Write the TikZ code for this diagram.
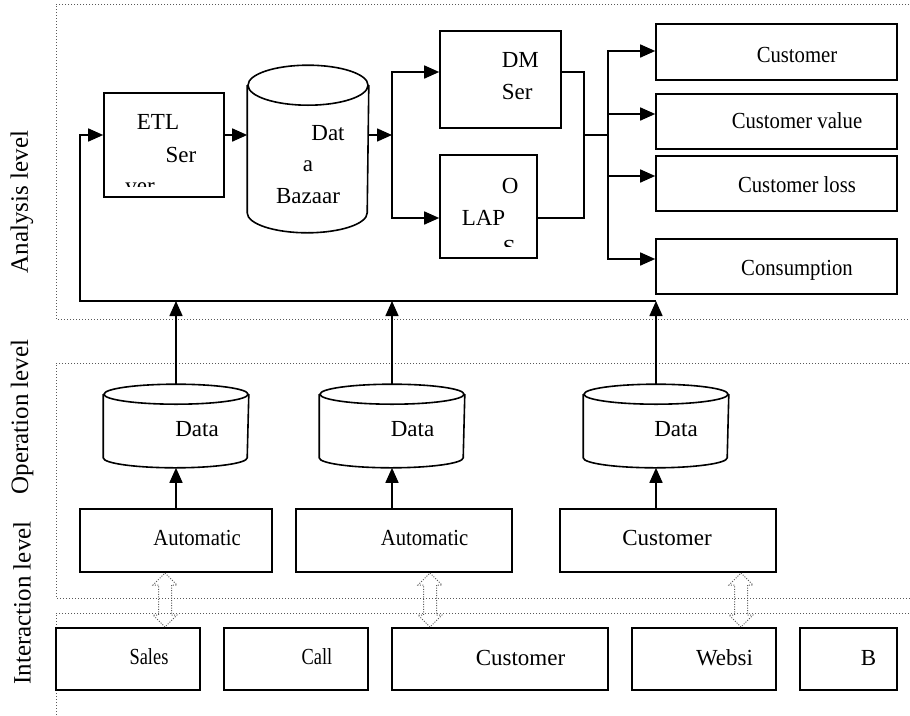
\documentclass[tikz,border=0pt]{standalone}
\usepackage{fontspec}
\setmainfont{Liberation Serif}
\newfontfamily\narrowfont[FakeStretch=0.9]{Liberation Serif}
\newfontfamily\narrowerfont[FakeStretch=0.8]{Liberation Serif}
\usetikzlibrary{arrows.meta}

\newcommand{\hollowarrow}[1]{%
  \draw[hollow] (#1) ++(0,-27) -- ++(12,12) -- ++(-5.5,0) -- ++(0,30)
    -- ++(5.5,0) -- ++(-12,12) -- ++(-12,-12) -- ++(5.5,0) -- ++(0,-30)
    -- ++(-5.5,0) -- cycle;}
% outline of a data store round a named node: name, x radius, y radius
\newcommand{\drum}[3]{%
  \draw ([yshift=-#3pt]#1.north west) -- ([yshift=#3pt]#1.south west)
    arc[start angle=180,end angle=360,x radius=#2pt,y radius=#3pt]
    -- ([yshift=-#3pt]#1.north east);
  \draw ([yshift=-#3pt]#1.north) ellipse [x radius=#2pt,y radius=#3pt];}

\begin{document}
\begin{tikzpicture}[x=1pt,y=-1pt,>={Triangle[length=15pt,width=13pt]},
                    line width=1.6pt]
\tikzstyle{every node}=[inner sep=0pt,font=\fontsize{23}{26}\selectfont]
\tikzstyle{box}=[draw,rectangle]
\tikzstyle{store}=[rectangle]
\tikzstyle{frame}=[line width=1pt,gray!70!black,dash pattern=on 1pt off 2pt]
\tikzstyle{hollow}=[line width=1pt,gray!70!black,dash pattern=on 1pt off 1.5pt]
\tikzstyle{level}=[rotate=90,font=\fontsize{25}{28}\selectfont]
\useasboundingbox (0,0) rectangle (910,715);

% the three levels
\draw[frame] (930,4) -- (56,4) -- (56,319) -- (930,319);
\draw[frame] (930,363) -- (56,363) -- (56,598) -- (930,598);
\draw[frame] (930,613) -- (56,613) -- (56,720);
\node[level] (lana) at (22,202) {Analysis level};
\node[level] (lope) at (22,417) {Operation level};
\node[level] (lint) at (22,603) {Interaction level};

% analysis level
\path
node[box,minimum width=120pt,minimum height=104pt] (etl) at (164,145) {}
node[store,minimum width=120pt,minimum height=166pt] (bazaar) at (308,149) {}
node[box,minimum width=121pt,minimum height=97pt] (dm) at (500.5,79.5) {}
node[box,minimum width=97pt,minimum height=103pt] (olap) at (488.5,206.5) {}
node[box,minimum width=241pt,minimum height=56pt] (r1) at (776.5,52) {}
node[box,minimum width=241pt,minimum height=55pt] (r2) at (776.5,121.5) {}
node[box,minimum width=241pt,minimum height=55pt] (r3) at (776.5,183.5) {}
node[box,minimum width=241pt,minimum height=55pt] (r4) at (776.5,266.5) {};
\drum{bazaar}{60}{20}

\path
(etl.center) ++(-6,-16) node[anchor=base] {ETL}
(etl.center) ++(17,17) node[anchor=base] {Ser}
(bazaar.center) ++(20,-9) node[anchor=base] {Dat}
(bazaar.center) ++(0,22) node[anchor=base] {a}
(bazaar.center) ++(0,54) node[anchor=base] {Bazaar}
(dm.center) ++(0.5,-12.5) node[anchor=base west] {DM}
(dm.center) ++(0.5,19.5) node[anchor=base west] {Ser}
(olap.center) ++(12.5,-13.5) node[anchor=base west] {O}
(olap.center) ++(-27.5,18.5) node[anchor=base west] {LAP}
(r1.center) ++(20.5,10) node[anchor=base] {\narrowfont Customer}
(r2.center) ++(20.5,6.5) node[anchor=base] {\narrowfont Customer value}
(r3.center) ++(20.5,8.5) node[anchor=base] {\narrowfont Customer loss}
(r4.center) ++(20.5,8.5) node[anchor=base] {\narrowfont Consumption};

\begin{scope}
\clip (etl.north west) rectangle ([yshift=11pt]etl.south east);
\path (etl.center) ++(-24,48) node[anchor=base] {ver};
\end{scope}
\begin{scope}
\clip (olap.north west) rectangle ([yshift=12pt]olap.south east);
\path (olap.center) ++(13.5,48.5) node[anchor=base west] {S};
\end{scope}

% operation level
\path
node[store,minimum width=144pt,minimum height=82pt] (d1) at (176,426) {}
node[store,minimum width=144pt,minimum height=82pt] (d2) at (392,426) {}
node[store,minimum width=144pt,minimum height=82pt] (d3) at (656,426) {}
node[box,minimum width=192pt,minimum height=63pt] (a1) at (176,540.5) {}
node[box,minimum width=216pt,minimum height=63pt] (a2) at (404,540.5) {}
node[box,minimum width=216pt,minimum height=63pt] (a3) at (668,540.5) {};
\drum{d1}{72}{10}
\drum{d2}{72}{10}
\drum{d3}{72}{10}

\path
(d1.center) ++(21,10) node[anchor=base] {Data}
(d2.center) ++(20.5,10) node[anchor=base] {Data}
(d3.center) ++(20,10) node[anchor=base] {Data}
(a1.center) ++(21,4.5) node[anchor=base] {\narrowfont Automatic}
(a2.center) ++(20.5,4.5) node[anchor=base] {\narrowfont Automatic}
(a3.center) ++(-1,4.5) node[anchor=base] {Customer};

% interaction level
\path
node[box,minimum width=144pt,minimum height=62pt] (i1) at (128,659) {}
node[box,minimum width=144pt,minimum height=62pt] (i2) at (296,659) {}
node[box,minimum width=216pt,minimum height=62pt] (i3) at (500,659) {}
node[box,minimum width=144pt,minimum height=62pt] (i4) at (704,659) {}
node[box,minimum width=97pt,minimum height=62pt] (i5) at (848.5,659) {};

\path
(i1.center) ++(21,5) node[anchor=base] {\narrowerfont Sales}
(i2.center) ++(21,5) node[anchor=base] {\narrowerfont Call}
(i3.center) ++(20.5,6) node[anchor=base] {Customer}
(i4.center) ++(20.5,6) node[anchor=base] {Websi}
(i5.center) ++(20,6) node[anchor=base] {B};

% connectors
\coordinate (busL) at (80,301);
\coordinate (flow) at (0,135);
\coordinate (fork) at (392,135);
\coordinate (join) at (584,135);
\coordinate (hub) at (608,135);

\draw[->] (d1.north) -- (d1.north |- busL);
\draw[->] (d2.north) -- (d2.north |- busL);
\draw[->] (d3.north) -- (d3.north |- busL);
\draw[->] (d3.north |- busL) -- (busL) |- (etl.west |- flow);
\draw[->] (etl.east |- flow) -- (bazaar.west |- flow);
\draw[->] (bazaar.east |- flow) -- (fork);
\draw[->] (fork) |- ([yshift=7.5pt]dm.west);
\draw[->] (fork) |- ([yshift=-11.5pt]olap.west);
\draw ([yshift=7.5pt]dm.east) -| (join) |- ([yshift=-11.5pt]olap.east);
\draw (join) -- (hub);
\draw[->] (hub) |- ([yshift=1pt]r1.west);
\draw[->] (hub) |- ([yshift=7.5pt]r2.west);
\draw[->] (hub) |- ([yshift=7.5pt]r3.west);
\draw[->] (hub) |- ([yshift=7.5pt]r4.west);

\draw[->] (d1.south |- a1.north) -- (d1.south);
\draw[->] (d2.south |- a2.north) -- (d2.south);
\draw[->] (d3.south |- a3.north) -- (d3.south);

\coordinate (h1) at (165,600);
\coordinate (h2) at (430,600);
\coordinate (h3) at (741,600);
\hollowarrow{h1}
\hollowarrow{h2}
\hollowarrow{h3}
\end{tikzpicture}
\end{document}
